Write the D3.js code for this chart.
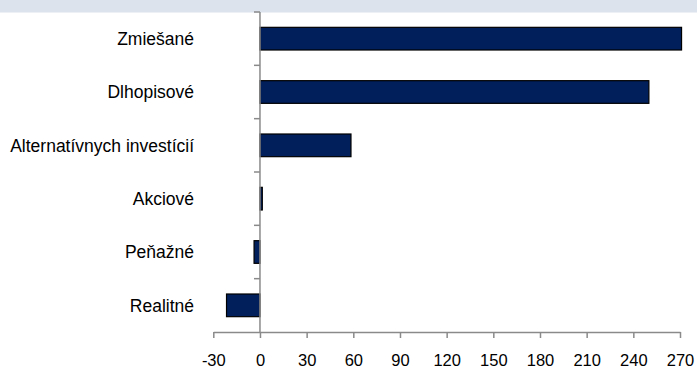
<!DOCTYPE html>
<html><head><meta charset="utf-8">
<script src="https://cdn.jsdelivr.net/npm/d3@7"></script>
<style>body{margin:0;background:#fff}svg{display:block}text{font-family:"Liberation Sans",Arial,sans-serif}</style>
</head><body><svg id="c" width="697" height="367"></svg>
<script>
const categories = ["Zmiešané","Dlhopisové","Alternatívnych investícií","Akciové","Peňažné","Realitné"];
const values = [271, 250, 58.5, 1.5, -3.8, -21.5];
const xTicks = [-30,0,30,60,90,120,150,180,210,240,270];

const svg = d3.select("#c");
svg.append("rect").attr("x",0).attr("y",0).attr("width",697).attr("height",12.5).attr("fill","#dce3ed");

const x = d3.scaleLinear().domain([-30,270]).range([213.3,680]);
const y = d3.scaleBand().domain(categories).range([12,332]).paddingInner(0.575).paddingOuter(0.2875);
const axisColor = "#8a8a8a";

// bars
svg.selectAll("rect.bar").data(values).join("rect").attr("class","bar")
  .attr("x",(d)=>x(Math.min(0,d)))
  .attr("width",(d)=>Math.abs(x(d)-x(0)))
  .attr("y",(d,i)=>y(categories[i]))
  .attr("height",y.bandwidth())
  .attr("fill","#001f5b").attr("stroke","#000").attr("stroke-width",1.2);

// x axis
const xa = svg.append("g").attr("transform","translate(0,332)")
  .call(d3.axisBottom(x).tickValues(xTicks).tickSize(6).tickSizeOuter(0).tickFormat(d=>String(d)));
xa.select(".domain").attr("stroke",axisColor).attr("stroke-width",1.5);
xa.selectAll(".tick line").attr("stroke",axisColor).attr("stroke-width",1.5);
xa.selectAll(".tick text").attr("font-size",16.5).attr("fill","#000").attr("dy",0).attr("y",33.5)
  .attr("font-family","'Liberation Sans',Arial,sans-serif");

// y axis line and boundary ticks
const step = y.step();
svg.append("line").attr("x1",x(0)).attr("x2",x(0)).attr("y1",12).attr("y2",332).attr("stroke",axisColor).attr("stroke-width",1.5);
const bounds = d3.range(categories.length).map(i=>12+i*step);
svg.selectAll("line.yt").data(bounds).join("line").attr("class","yt")
  .attr("x1",x(0)-6).attr("x2",x(0)).attr("y1",d=>d).attr("y2",d=>d)
  .attr("stroke",axisColor).attr("stroke-width",1.5);

// category labels
svg.selectAll("text.cat").data(categories).join("text").attr("class","cat")
  .attr("x",194).attr("y",d=>y(d)+y.bandwidth()/2+6.3)
  .attr("text-anchor","end").attr("font-size",17.5).attr("fill","#000").text(d=>d);
</script></body></html>
